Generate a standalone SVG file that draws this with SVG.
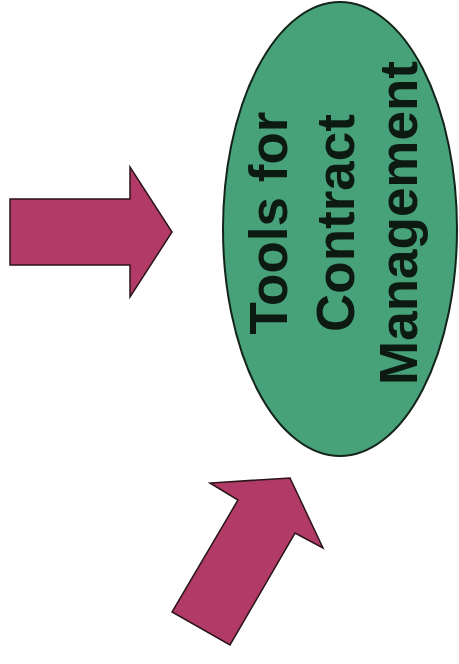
<svg xmlns="http://www.w3.org/2000/svg" width="459" height="664" viewBox="0 0 459 664">
<style>
.arrow{fill:#b23a67;stroke:#2a1518;stroke-width:1.5;stroke-linejoin:miter}
.oval{fill:#47a27a;stroke:#13241a;stroke-width:2}
.lbl{font-family:"Liberation Sans",Arial,sans-serif;font-weight:bold;font-size:53px;fill:#0d1a12;text-anchor:middle}
</style>
<rect width="459" height="664" fill="#ffffff"/>
<g id="node-tools">
<ellipse class="oval" cx="340" cy="229" rx="117" ry="227"/>
<g transform="translate(0,223) rotate(-90)">
<text class="lbl" x="0" y="287">Tools for</text>
<text class="lbl" x="0" y="354">Contract</text>
<text class="lbl" x="0" y="417">Management</text>
</g>
</g>
<g id="connectors">
<polygon id="arrow-right" class="arrow" points="10,199 130,199 130,167 172,232 130,297 130,265 10,265"/>
<polygon id="arrow-diag" class="arrow" points="290,478 323,548 295,533 230,645 172,612 238,500 210,483"/>
</g>
</svg>
